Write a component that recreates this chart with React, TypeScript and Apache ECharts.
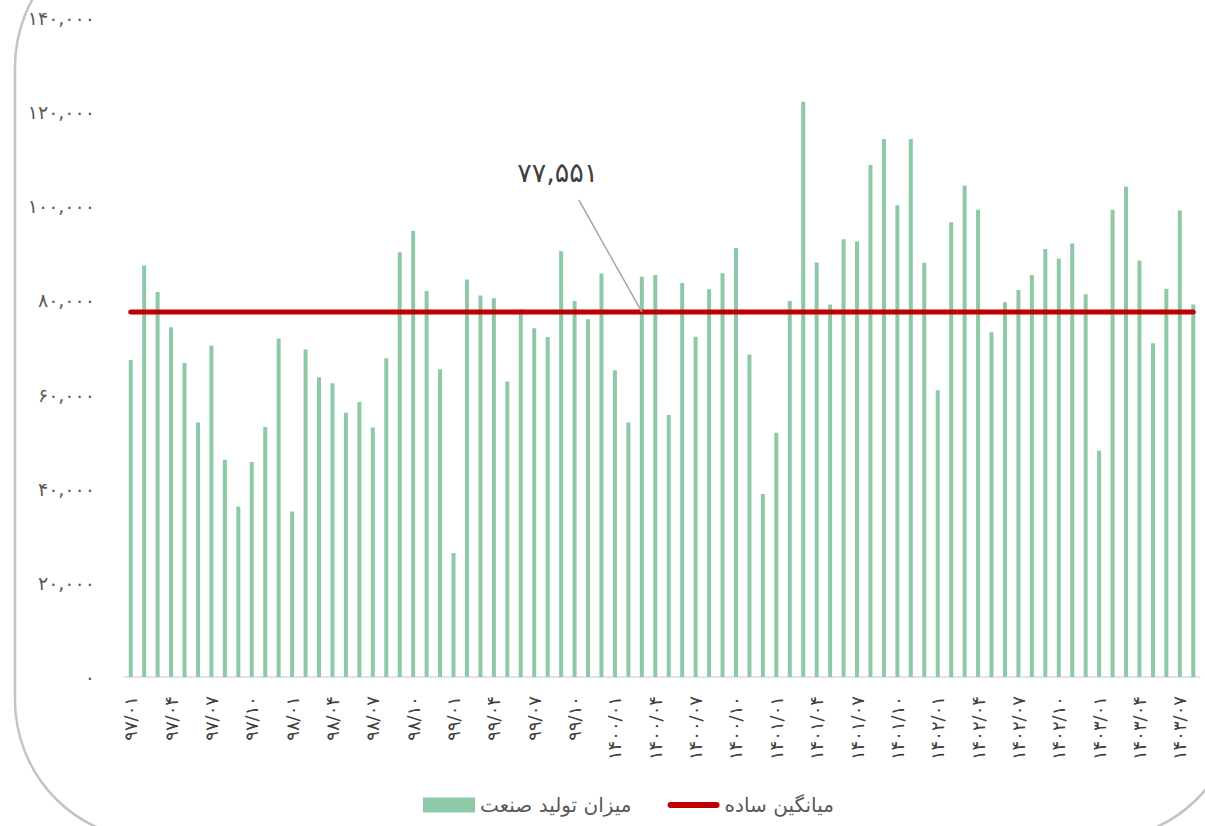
import React, { useEffect, useRef } from "react";
import * as echarts from "echarts";

const YEARS = ["۹۷", "۹۸", "۹۹", "۱۴۰۰", "۱۴۰۱", "۱۴۰۲", "۱۴۰۳"];
const MONTHS = ["۰۱", "۰۲", "۰۳", "۰۴", "۰۵", "۰۶", "۰۷", "۰۸", "۰۹", "۱۰", "۱۱", "۱۲"];
const CATEGORIES: string[] = YEARS.flatMap((y) => MONTHS.map((m) => `${y}/${m}`)).slice(0, 80);

const PRODUCTION = [
  67360, 87410, 81800, 74300, 66700, 54060, 70400, 46170, 36200, 45700,
  53110, 71920, 35150, 69550, 63660, 62420, 56150, 58430, 53020, 67740,
  90260, 94730, 82000, 65370, 26320, 84470, 81050, 80480, 62800, 78100,
  74110, 72210, 90450, 79900, 76010, 85700, 65180, 54060, 85040, 85420,
  55680, 83710, 72300, 82380, 85800, 91120, 68500, 38860, 51880, 79900,
  122190, 88080, 79150, 93020, 92540, 108790, 114300, 100240, 114300, 87980,
  60900, 96630, 104420, 99290, 73250, 79620, 82190, 85420, 90930, 88840,
  92070, 81330, 48080, 99290, 104130, 88460, 70880, 82470, 99100, 79150,
];

const AVERAGE_VALUE = 77551;
const AVERAGE = CATEGORIES.map(() => AVERAGE_VALUE);
const ANNOTATION_INDEX = 38;

const SERIES_NAMES = ["میزان تولید صنعت", "میانگین ساده"];

const FA_DIGITS = "۰۱۲۳۴۵۶۷۸۹";
const toFa = (s: string) => s.replace(/\d/g, (d) => FA_DIGITS[+d]);
const fmt = (v: number) => toFa(v.toLocaleString("en-US"));

const FONT = "'DejaVu Sans', 'Noto Sans', sans-serif";
const LINE_ICON =
  "path://M3,0 L49,0 A3,3 0 0 1 49,6 L3,6 A3,3 0 0 1 3,0 Z";

export default function App() {
  const ref = useRef<HTMLDivElement>(null);

  useEffect(() => {
    if (!ref.current) return;
    const chart = echarts.init(ref.current, null, { renderer: "svg" });
    chart.setOption({
      animation: false,
      backgroundColor: "#ffffff",
      textStyle: { fontFamily: FONT },
      grid: { left: 124, right: 5, top: 18, bottom: 149, containLabel: false },
      legend: {
        bottom: 6,
        left: 418,
        itemWidth: 52,
        itemHeight: 15,
        itemGap: 36,
        textStyle: { fontSize: 20, color: "#595959", fontFamily: FONT },
        data: [
          { name: SERIES_NAMES[0], icon: "rect" },
          { name: SERIES_NAMES[1], icon: LINE_ICON },
        ],
      },
      xAxis: {
        type: "category",
        data: CATEGORIES,
        boundaryGap: true,
        axisLine: { show: true, lineStyle: { color: "#d9d9d9", width: 1.5 } },
        axisTick: { show: false },
        axisLabel: {
          interval: 2,
          rotate: 90,
          margin: 19,
          fontSize: 18,
          color: "#404040",
          fontFamily: FONT,
        },
        splitLine: { show: false },
      },
      yAxis: {
        type: "value",
        min: 0,
        max: 140000,
        interval: 20000,
        axisLine: { show: false },
        axisTick: { show: false },
        splitLine: { show: false },
        axisLabel: {
          margin: 29,
          fontSize: 19,
          color: "#595959",
          fontFamily: FONT,
          formatter: (v: number) => fmt(v),
        },
      },
      series: [
        {
          name: SERIES_NAMES[0],
          type: "bar",
          data: PRODUCTION,
          barWidth: 4,
          itemStyle: { color: "#8dc8a7" },
        },
        {
          name: SERIES_NAMES[1],
          type: "line",
          data: AVERAGE,
          symbol: "none",
          showSymbol: false,
          lineStyle: { color: "#c00000", width: 5, cap: "round" },
          itemStyle: { color: "#c00000" },
          z: 3,
        },
      ],
    });

    const p = chart.convertToPixel({ gridIndex: 0 }, [ANNOTATION_INDEX, AVERAGE_VALUE]) as number[];
    chart.setOption({
      graphic: [
        {
          type: "rect",
          silent: true,
          z: -1,
          shape: { x: 15, y: -73, width: 1223, height: 913, r: 140 },
          style: { fill: "none", stroke: "#c4c4c4", lineWidth: 2.5 },
        },
        {
          type: "line",
          silent: true,
          z: 10,
          shape: { x1: p[0], y1: p[1], x2: p[0] - 63, y2: p[1] - 112 },
          style: { stroke: "#a6a6a6", lineWidth: 1.5 },
        },
        {
          type: "text",
          silent: true,
          z: 10,
          x: p[0] - 84,
          y: p[1] - 139,
          style: {
            text: fmt(AVERAGE_VALUE),
            fontSize: 27,
            fill: "#404040",
            fontFamily: FONT,
            align: "center",
            verticalAlign: "middle",
          },
        },
      ],
    });

    return () => chart.dispose();
  }, []);

  return (
    <div
      ref={ref}
      style={{ position: "fixed", left: 0, top: 0, width: 1205, height: 826 }}
    />
  );
}
